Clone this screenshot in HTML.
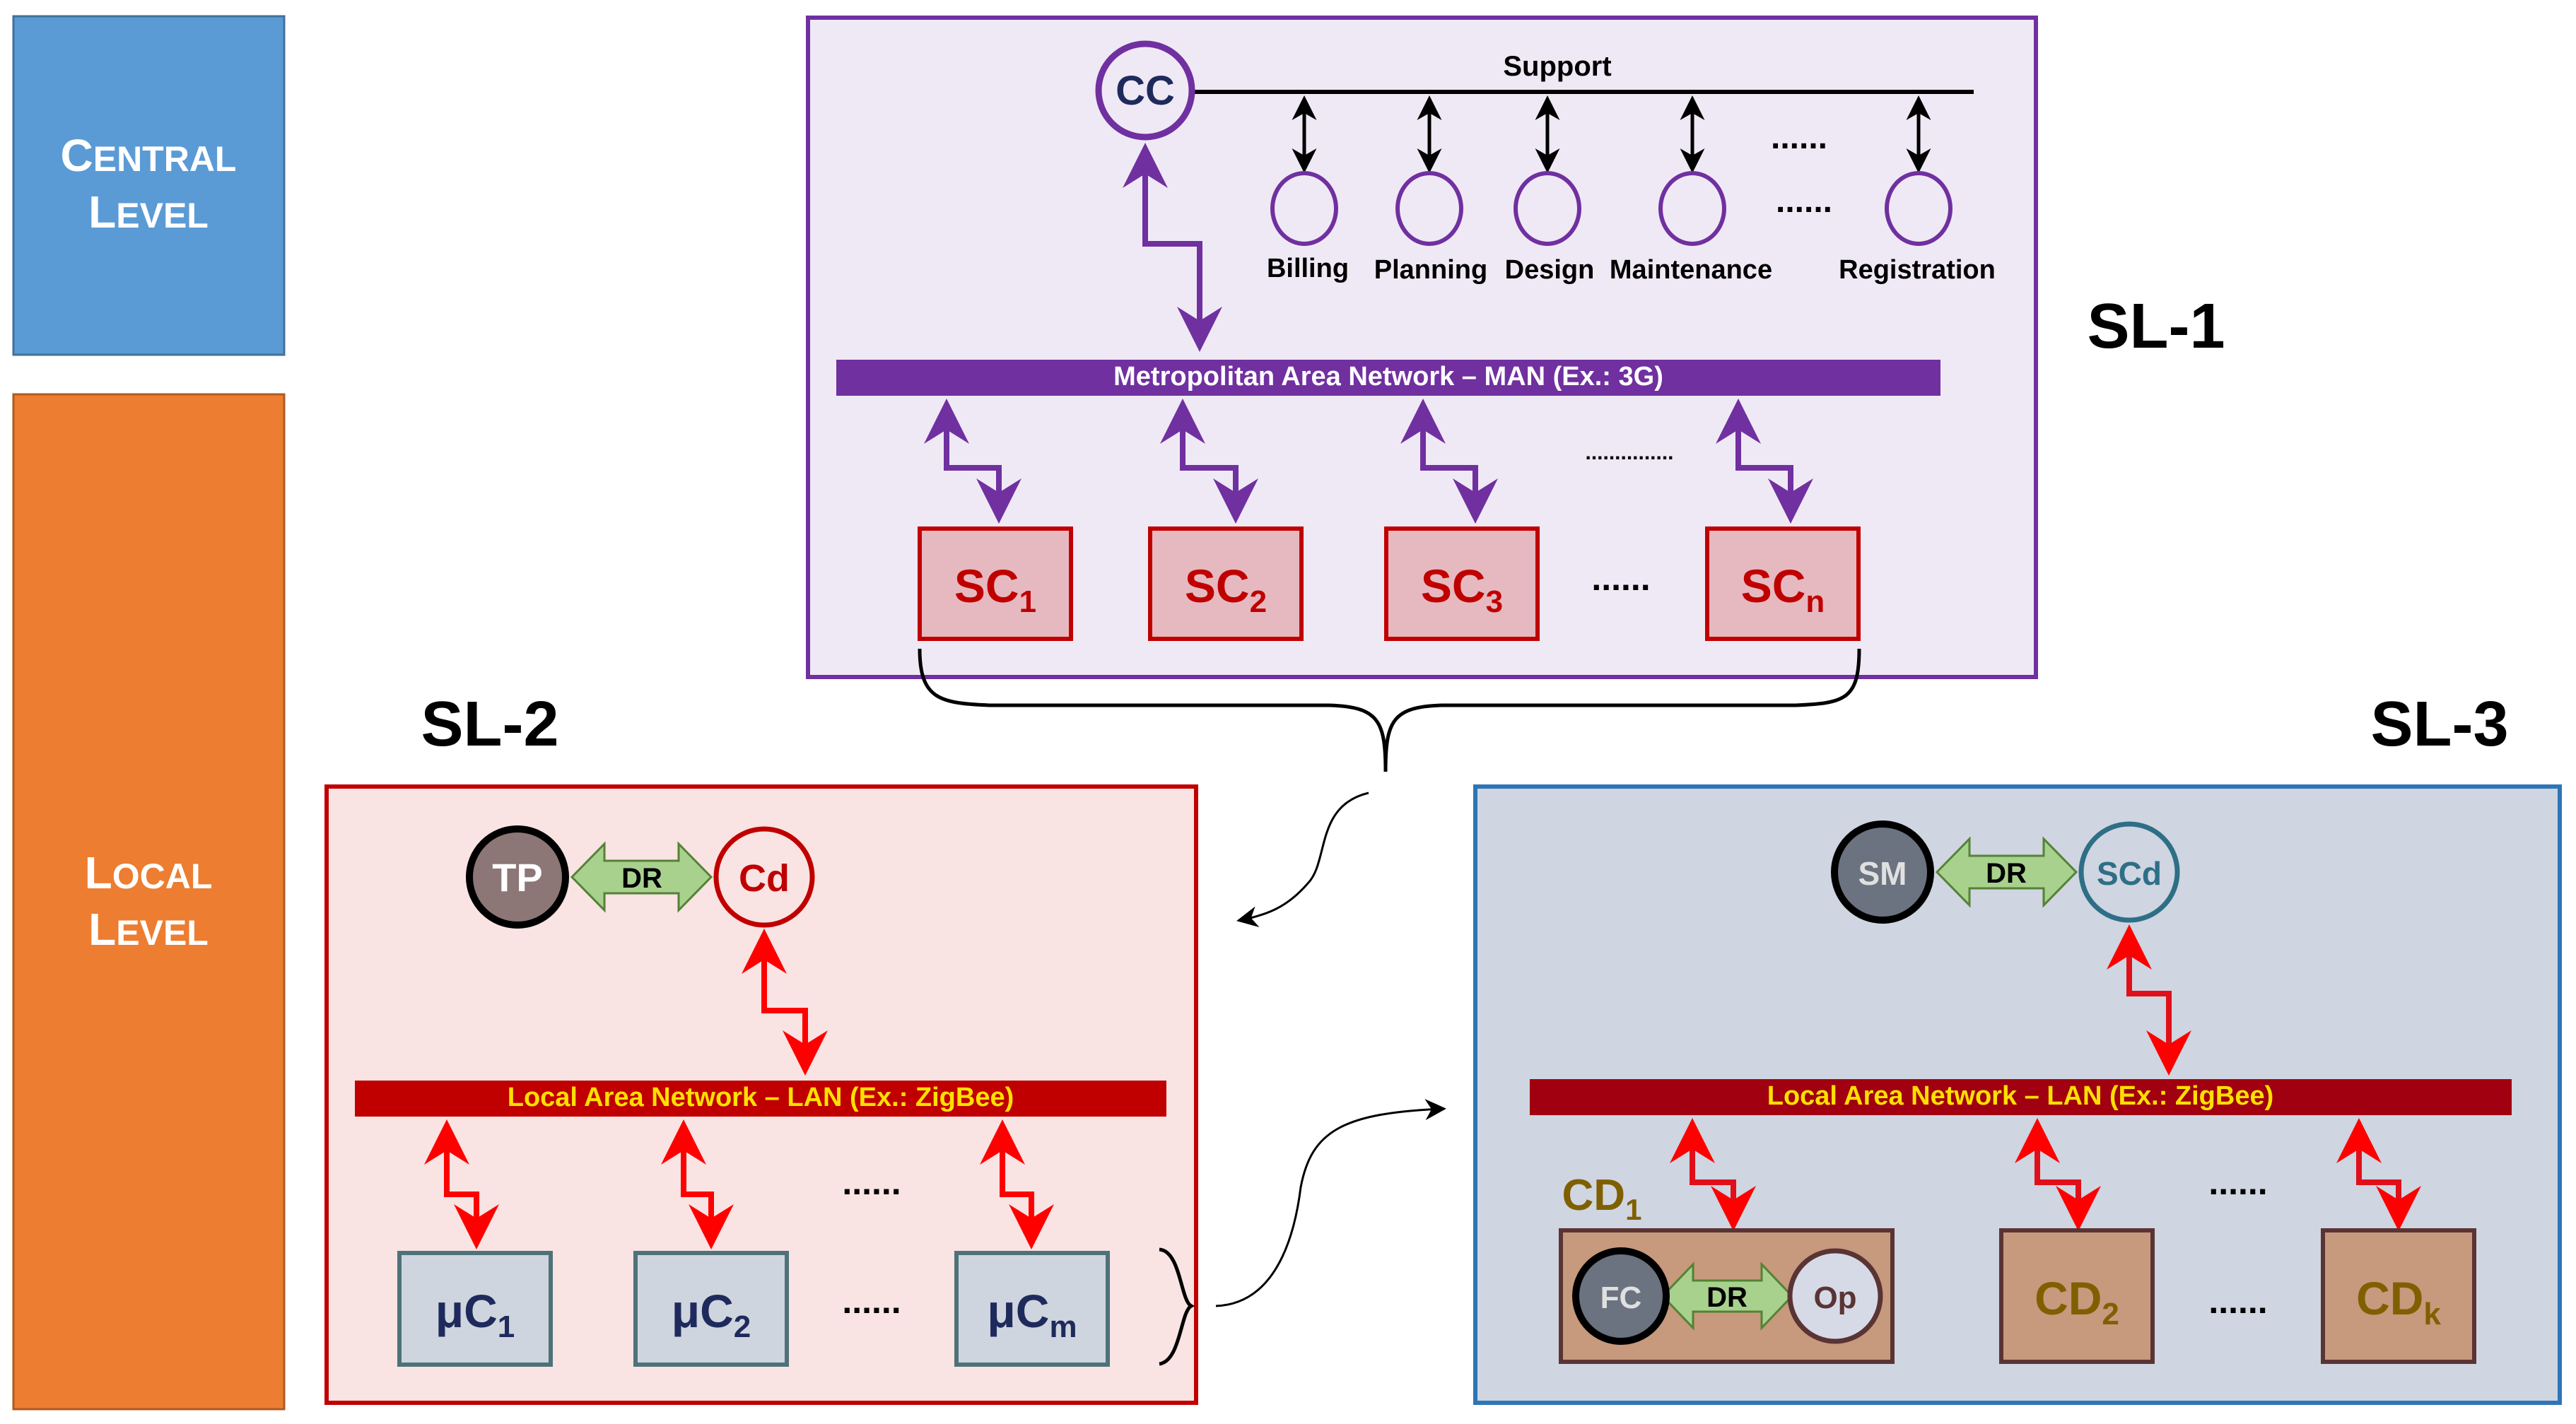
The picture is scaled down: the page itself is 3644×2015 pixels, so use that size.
<!DOCTYPE html>
<html><head><meta charset="utf-8"><style>html,body{margin:0;padding:0;background:#fff}svg{display:block}text{font-family:"Liberation Sans",sans-serif;font-weight:bold}</style></head><body>
<svg width="3644" height="2015" viewBox="0 0 3644 2015" xmlns="http://www.w3.org/2000/svg">
<defs>
<marker id="ap" markerWidth="8" markerHeight="8" refX="7" refY="4" orient="auto-start-reverse" markerUnits="strokeWidth"><path d="M0,0 L8,4 L0,8 L2.5,4 Z" fill="#7030a0"/></marker>
<marker id="ar" markerWidth="8" markerHeight="8" refX="7" refY="4" orient="auto-start-reverse" markerUnits="strokeWidth"><path d="M0,0 L8,4 L0,8 L2.5,4 Z" fill="#ff0000"/></marker>
<marker id="ak" markerWidth="7" markerHeight="7" refX="6" refY="3.5" orient="auto-start-reverse" markerUnits="strokeWidth"><path d="M0,0 L7,3.5 L0,7 L2,3.5 Z" fill="#000"/></marker>
<marker id="ak2" markerWidth="10" markerHeight="10" refX="8" refY="5" orient="auto" markerUnits="strokeWidth"><path d="M0,0 L10,5 L0,10 L3,5 Z" fill="#000"/></marker>
</defs>
<rect x="19" y="23" width="383" height="479" fill="#5b9bd5" stroke="#41719c" stroke-width="3"/>
<text x="210" y="242" fill="#fff" font-size="64" text-anchor="middle">C<tspan font-size="50">ENTRAL</tspan></text>
<text x="210" y="322" fill="#fff" font-size="64" text-anchor="middle">L<tspan font-size="50">EVEL</tspan></text>
<rect x="19" y="558" width="383" height="1436" fill="#ed7d31" stroke="#ae5a21" stroke-width="3"/>
<text x="210" y="1257" fill="#fff" font-size="64" text-anchor="middle">L<tspan font-size="50">OCAL</tspan></text>
<text x="210" y="1337" fill="#fff" font-size="64" text-anchor="middle">L<tspan font-size="50">EVEL</tspan></text>

<rect x="1143" y="25" width="1737" height="933" fill="#efe9f5" stroke="#7030a0" stroke-width="6"/>
<line x1="1690" y1="130" x2="2792" y2="130" stroke="#000" stroke-width="6"/>
<text x="2203" y="107" font-size="40" text-anchor="middle">Support</text>
<g stroke="#000" stroke-width="5" fill="none">
<line x1="1845" y1="140" x2="1845" y2="240" marker-start="url(#ak)" marker-end="url(#ak)"/>
<line x1="2022" y1="140" x2="2022" y2="240" marker-start="url(#ak)" marker-end="url(#ak)"/>
<line x1="2189" y1="140" x2="2189" y2="240" marker-start="url(#ak)" marker-end="url(#ak)"/>
<line x1="2394" y1="140" x2="2394" y2="240" marker-start="url(#ak)" marker-end="url(#ak)"/>
<line x1="2714" y1="140" x2="2714" y2="240" marker-start="url(#ak)" marker-end="url(#ak)"/>
</g>
<g fill="#efe9f5" stroke="#7030a0" stroke-width="6">
<ellipse cx="1845" cy="295" rx="45" ry="50"/><ellipse cx="2022" cy="295" rx="45" ry="50"/><ellipse cx="2189" cy="295" rx="45" ry="50"/><ellipse cx="2394" cy="295" rx="45" ry="50"/><ellipse cx="2714" cy="295" rx="45" ry="50"/>
</g>
<g font-size="38" text-anchor="middle">
<text x="1850" y="392">Billing</text><text x="2024" y="394">Planning</text><text x="2192" y="394">Design</text><text x="2392" y="394">Maintenance</text><text x="2712" y="394">Registration</text>
</g>
<text x="2545" y="210" font-size="48" text-anchor="middle">......</text>
<text x="2552" y="300" font-size="48" text-anchor="middle">......</text>
<circle cx="1620" cy="128" r="66" fill="#efe9f5" stroke="#7030a0" stroke-width="9"/>
<text x="1620" y="148" font-size="58" fill="#1f2a5c" text-anchor="middle">CC</text>
<path d="M1620,210 V345 H1697 V490" stroke="#7030a0" stroke-width="8" fill="none" marker-start="url(#ap)" marker-end="url(#ap)"/>
<rect x="1183" y="509" width="1562" height="51" fill="#7030a0"/>
<text x="1964" y="545" font-size="38" fill="#fff" text-anchor="middle">Metropolitan Area Network – MAN (Ex.: 3G)</text>
<g stroke="#7030a0" stroke-width="8" fill="none">
<path d="M1339,572 V662 H1413 V733" marker-start="url(#ap)" marker-end="url(#ap)"/>
<path d="M1673,572 V662 H1748 V733" marker-start="url(#ap)" marker-end="url(#ap)"/>
<path d="M2013,572 V662 H2087 V733" marker-start="url(#ap)" marker-end="url(#ap)"/>
<path d="M2459,572 V662 H2533 V733" marker-start="url(#ap)" marker-end="url(#ap)"/>
</g>
<text x="2305" y="650" font-size="30" text-anchor="middle">...............</text>
<g fill="#e6b9c0" stroke="#c00000" stroke-width="6">
<rect x="1301" y="748" width="214" height="156"/><rect x="1627" y="748" width="214" height="156"/><rect x="1961" y="748" width="214" height="156"/><rect x="2415" y="748" width="214" height="156"/>
</g>
<g font-size="66" fill="#c00000" text-anchor="middle">
<text x="1408" y="852">SC<tspan font-size="44" dy="14">1</tspan></text>
<text x="1734" y="852">SC<tspan font-size="44" dy="14">2</tspan></text>
<text x="2068" y="852">SC<tspan font-size="44" dy="14">3</tspan></text>
<text x="2522" y="852">SC<tspan font-size="44" dy="14">n</tspan></text>
</g>
<text x="2293" y="835" font-size="50" text-anchor="middle">......</text>
<text x="3050" y="492" font-size="90" text-anchor="middle">SL-1</text>
<path d="M1301,918 C1301,990 1330,995 1400,998 L1880,998 C1950,1000 1960,1020 1960,1092 C1960,1020 1970,1000 2040,998 L2540,998 C2610,995 2630,990 2630,918" stroke="#000" stroke-width="5" fill="none"/>
<path d="M1936,1122 C1860,1140 1880,1220 1850,1250 C1820,1285 1790,1295 1755,1302" stroke="#000" stroke-width="3" fill="none" marker-end="url(#ak2)"/>

<text x="693" y="1055" font-size="90" text-anchor="middle">SL-2</text>
<rect x="462" y="1113" width="1230" height="872" fill="#f9e3e3" stroke="#c00000" stroke-width="6"/>
<polygon points="809,1241 855,1194 855,1218 960,1218 960,1194 1006,1241 960,1288 960,1264 855,1264 855,1288" fill="#a9d18e" stroke="#548235" stroke-width="3"/>
<text x="908" y="1256" font-size="40" text-anchor="middle" font-family="Liberation Serif">DR</text>
<circle cx="732" cy="1241" r="68" fill="#8c7676" stroke="#000" stroke-width="10"/>
<text x="732" y="1261" font-size="56" fill="#fff" text-anchor="middle">TP</text>
<circle cx="1081" cy="1241" r="68" fill="#f9e3e3" stroke="#c00000" stroke-width="7"/>
<text x="1081" y="1261" font-size="54" fill="#c00000" text-anchor="middle">Cd</text>
<g stroke="#ff0000" stroke-width="8" fill="none">
<path d="M1081,1322 V1430 H1139 V1514" marker-start="url(#ar)" marker-end="url(#ar)"/>
<path d="M632,1592 V1690 H674 V1760" marker-start="url(#ar)" marker-end="url(#ar)"/>
<path d="M967,1592 V1690 H1006 V1760" marker-start="url(#ar)" marker-end="url(#ar)"/>
<path d="M1418,1592 V1690 H1459 V1760" marker-start="url(#ar)" marker-end="url(#ar)"/>
</g>
<rect x="502" y="1529" width="1148" height="51" fill="#c00000"/>
<text x="1076" y="1565" font-size="38" fill="#ffe000" text-anchor="middle">Local Area Network – LAN (Ex.: ZigBee)</text>
<g fill="#cfd5de" stroke="#4e7279" stroke-width="6">
<rect x="565" y="1773" width="214" height="158"/><rect x="899" y="1773" width="214" height="158"/><rect x="1353" y="1773" width="214" height="158"/>
</g>
<g font-size="66" fill="#1f2a5c" text-anchor="middle">
<text x="672" y="1878">μC<tspan font-size="44" dy="14">1</tspan></text>
<text x="1006" y="1878">μC<tspan font-size="44" dy="14">2</tspan></text>
<text x="1460" y="1878">μC<tspan font-size="44" dy="14">m</tspan></text>
</g>
<text x="1233" y="1690" font-size="50" text-anchor="middle">......</text>
<text x="1233" y="1858" font-size="50" text-anchor="middle">......</text>
<path d="M1640,1768 C1670,1770 1670,1840 1685,1848 C1670,1856 1670,1926 1640,1930" stroke="#000" stroke-width="5" fill="none"/>
<path d="M1720,1848 C1800,1845 1830,1760 1840,1680 C1855,1600 1900,1575 2040,1569" stroke="#000" stroke-width="3" fill="none" marker-end="url(#ak2)"/>

<text x="3451" y="1055" font-size="90" text-anchor="middle">SL-3</text>
<rect x="2087" y="1113" width="1534" height="872" fill="#cfd5e1" stroke="#2e75b6" stroke-width="6"/>
<polygon points="2740,1234 2786,1187 2786,1211 2891,1211 2891,1187 2937,1234 2891,1281 2891,1257 2786,1257 2786,1281" fill="#a9d18e" stroke="#548235" stroke-width="3"/>
<text x="2838" y="1249" font-size="40" text-anchor="middle" font-family="Liberation Serif">DR</text>
<circle cx="2663" cy="1234" r="68" fill="#6b7280" stroke="#000" stroke-width="10"/>
<text x="2663" y="1252" font-size="46" fill="#e0e0e0" text-anchor="middle">SM</text>
<circle cx="3012" cy="1234" r="68" fill="#cfd5e1" stroke="#2e6f86" stroke-width="7"/>
<text x="3012" y="1252" font-size="46" fill="#2e6f86" text-anchor="middle">SCd</text>
<g stroke="#e0101a" stroke-width="8" fill="none">
<path d="M3012,1316 V1406 H3068 V1514" marker-start="url(#ar)" marker-end="url(#ar)"/>
<path d="M2394,1590 V1673 H2452 V1734" marker-start="url(#ar)" marker-end="url(#ar)"/>
<path d="M2882,1590 V1673 H2940 V1734" marker-start="url(#ar)" marker-end="url(#ar)"/>
<path d="M3337,1590 V1673 H3393 V1734" marker-start="url(#ar)" marker-end="url(#ar)"/>
</g>
<rect x="2164" y="1527" width="1389" height="51" fill="#a00010"/>
<text x="2858" y="1563" font-size="38" fill="#ffe000" text-anchor="middle">Local Area Network – LAN (Ex.: ZigBee)</text>
<g fill="#c7997d" stroke="#5a3434" stroke-width="6">
<rect x="2208" y="1741" width="469" height="186"/><rect x="2831" y="1741" width="214" height="186"/><rect x="3286" y="1741" width="214" height="186"/>
</g>
<text x="2266" y="1712" font-size="62" fill="#7f6000" text-anchor="middle">CD<tspan font-size="42" dy="14">1</tspan></text>
<polygon points="2352,1834 2395,1789 2395,1812 2492,1812 2492,1789 2535,1834 2492,1879 2492,1856 2395,1856 2395,1879" fill="#a9d18e" stroke="#548235" stroke-width="3"/>
<text x="2443" y="1849" font-size="40" text-anchor="middle" font-family="Liberation Serif">DR</text>
<circle cx="2293" cy="1834" r="64" fill="#6b7280" stroke="#000" stroke-width="10"/>
<text x="2293" y="1851" font-size="44" fill="#e0e0e0" text-anchor="middle">FC</text>
<circle cx="2596" cy="1834" r="64" fill="#d6dae6" stroke="#5a3434" stroke-width="7"/>
<text x="2596" y="1851" font-size="44" fill="#5a3434" text-anchor="middle">Op</text>
<g font-size="66" fill="#7f6000" text-anchor="middle">
<text x="2938" y="1860">CD<tspan font-size="44" dy="14">2</tspan></text>
<text x="3393" y="1860">CD<tspan font-size="44" dy="14">k</tspan></text>
</g>
<text x="3166" y="1690" font-size="50" text-anchor="middle">......</text>
<text x="3166" y="1858" font-size="50" text-anchor="middle">......</text>
</svg>
</body></html>
